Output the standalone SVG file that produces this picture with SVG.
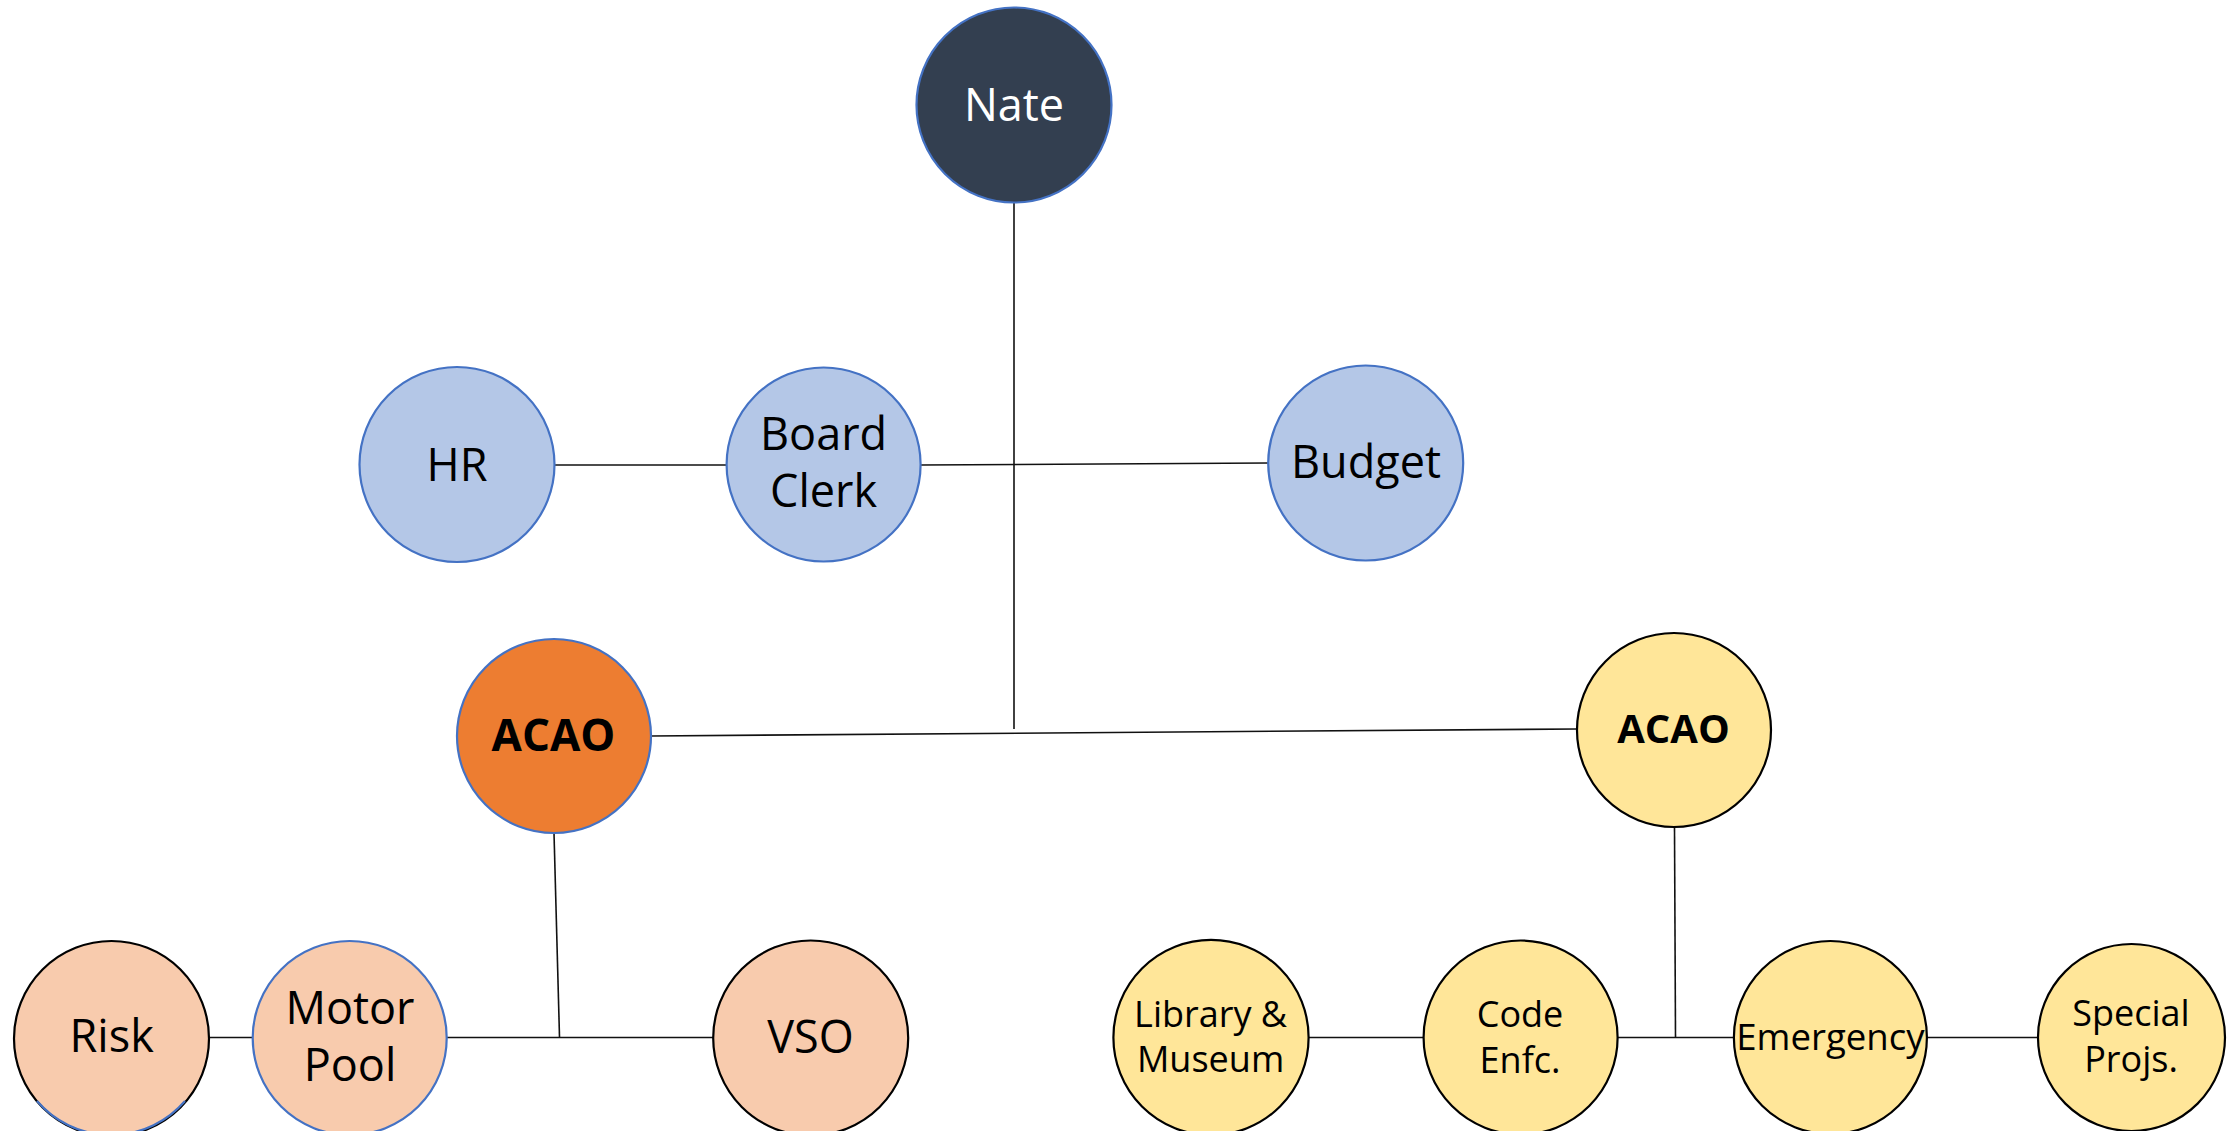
<svg xmlns="http://www.w3.org/2000/svg" width="2238" height="1131" viewBox="0 0 2238 1131">
<style>
text{font-family:"Open Sans","Noto Sans",sans-serif;text-anchor:middle;fill:#000}
.big{font-size:45px}
.sm{font-size:36px}
.bold{font-weight:bold}
.wb{fill:#fff}
.c{stroke-width:2.2}
.blue{stroke:#4472C4}
.blk{stroke:#000}
.navy{fill:#333F50}
.lb{fill:#B4C7E7}
.org{fill:#ED7D31}
.lo{fill:#F8CBAD}
.yel{fill:#FFE699}
.conn line{stroke:#111;stroke-width:1.6}
</style>
<rect width="2238" height="1131" fill="#fff"/>
<g id="connectors" class="conn">
<line x1="1014" y1="203" x2="1014" y2="729"/>
<line x1="554" y1="465" x2="727" y2="465"/>
<line x1="920" y1="465" x2="1268" y2="463"/>
<line x1="651" y1="736" x2="1577" y2="729"/>
<line x1="554" y1="833" x2="559.5" y2="1037"/>
<line x1="209" y1="1037.5" x2="253" y2="1037.5"/>
<line x1="447" y1="1037.5" x2="713" y2="1037.5"/>
<line x1="1674.5" y1="827" x2="1675.5" y2="1037"/>
<line x1="1308.6" y1="1037.5" x2="1423.4" y2="1037.5"/>
<line x1="1617.8" y1="1037.5" x2="1734.3" y2="1037.5"/>
<line x1="1926.5" y1="1037.5" x2="2038" y2="1037.5"/>
</g>
<g id="nate"><circle class="c blue navy" cx="1014" cy="105" r="97.5"/><text class="big wb" x="1014" y="121">Nate</text></g>
<g id="hr"><circle class="c blue lb" cx="457" cy="464.5" r="97.5"/><text class="big" x="457" y="481">HR</text></g>
<g id="board-clerk"><circle class="c blue lb" cx="823.6" cy="464.5" r="97"/><text class="big" x="823.6" y="450">Board</text><text class="big" x="823.6" y="507">Clerk</text></g>
<g id="budget"><circle class="c blue lb" cx="1365.7" cy="463" r="97.5"/><text class="big" x="1366" y="478">Budget</text></g>
<g id="acao-left"><circle class="c blue org" cx="554" cy="736" r="97"/><text class="bold" style="font-size:44px" x="553.5" y="751">ACAO</text></g>
<g id="acao-right"><circle class="c blk yel" cx="1674" cy="730" r="97"/><text class="bold" style="font-size:40px" x="1673.5" y="743">ACAO</text></g>
<g id="risk"><circle class="c blk lo" cx="111.5" cy="1038.5" r="97.5"/><path d="M37,1101 A97.5,97.5 0 0 0 185,1101" fill="none" stroke="#4472C4" stroke-width="2.2"/><text class="big" x="111.7" y="1052">Risk</text></g>
<g id="motor-pool"><circle class="c blue lo" cx="349.7" cy="1038" r="97"/><text class="big" x="350" y="1024">Motor</text><text class="big" x="350" y="1081">Pool</text></g>
<g id="vso"><circle class="c blk lo" cx="810.7" cy="1038" r="97.5"/><text class="big" x="810.5" y="1053">VSO</text></g>
<g id="library-museum"><circle class="c blk yel" cx="1211" cy="1037.5" r="97.6"/><text class="sm" x="1210.6" y="1027">Library &amp;</text><text class="sm" x="1210.6" y="1072">Museum</text></g>
<g id="code-enfc"><circle class="c blk yel" cx="1520.6" cy="1037.5" r="97"/><text class="sm" x="1520" y="1027">Code</text><text class="sm" x="1520" y="1073">Enfc.</text></g>
<g id="emergency"><circle class="c blk yel" cx="1830.4" cy="1037.5" r="96.5"/><text x="1830.4" y="1049.5" style="font-size:36.6px">Emergency</text></g>
<g id="special-projs"><circle class="c blk yel" cx="2131.5" cy="1037.5" r="93.5"/><text class="sm" x="2131" y="1026">Special</text><text class="sm" x="2131" y="1072">Projs.</text></g>
</svg>
